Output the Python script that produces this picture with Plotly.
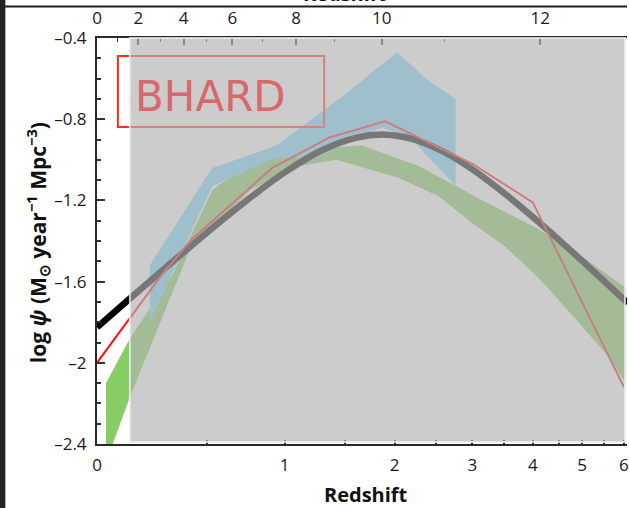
import plotly.graph_objects as go

# ---------------- data ----------------
# thick black/grey fit curve
fit_z = [0, 0.1, 0.2, 0.3, 0.5, 0.7, 1.0, 1.3, 1.6, 1.9, 2.2, 2.6, 3.0, 3.5, 4.0, 4.5, 5.0, 5.5, 6.0, 6.1]
fit_logpsi = [-1.825, -1.714, -1.613, -1.521, -1.359, -1.223, -1.062, -0.952, -0.892, -0.876,
              -0.897, -0.961, -1.047, -1.165, -1.282, -1.393, -1.498, -1.597, -1.688, -1.706]

# thin red polyline
red_z = [0, 0.129, 0.26, 0.41, 0.63, 0.91, 1.36, 1.9, 3.0, 4.0, 6.0]
red_logpsi = [-2.0, -1.78, -1.58, -1.40, -1.23, -1.04, -0.89, -0.81, -1.02, -1.21, -2.12]

# green band
green_upper_z = [0.034, 0.129, 0.32, 0.53, 0.69, 1.11, 1.66, 2.28, 3.09, 4.10, 4.76, 5.53, 6.05]
green_upper = [-2.10, -1.88, -1.57, -1.15, -1.05, -0.95, -0.93, -1.03, -1.19, -1.34, -1.44, -1.56, -1.63]
green_lower_z = [0.034, 0.129, 0.41, 0.76, 1.11, 1.42, 2.05, 2.53, 2.99, 3.52, 4.10, 4.76, 5.53, 6.05]
green_lower = [-2.49, -2.17, -1.44, -1.15, -1.03, -1.00, -1.09, -1.18, -1.31, -1.43, -1.58, -1.76, -1.95, -2.10]

# blue band
blue_upper_z = [0.215, 0.53, 0.94, 1.47, 2.03, 2.40, 2.76]
blue_upper = [-1.52, -1.04, -0.93, -0.69, -0.47, -0.61, -0.70]
blue_lower_z = [0.215, 0.53, 0.94, 1.25, 1.86, 2.20, 2.76]
blue_lower = [-1.80, -1.13, -0.99, -0.99, -0.84, -0.90, -1.13]

# axes
redshift_ticks = [0, 1, 2, 3, 4, 5, 6]
redshift_minor = [0.5, 1.5, 2.5, 3.5, 4.5, 5.5]
lookback_labels = ["0", "2", "4", "6", "8", "10", "12"]
lookback_tick_z = [0.0, 0.165, 0.377, 0.649, 1.087, 1.863, 4.139]      # redshift of 0,2,...,12 Gyr
lookback_minor_z = [0.079, 0.264, 0.498, 0.842, 1.400, 2.610]           # 1,3,...,11 Gyr
y_ticks = [-0.4, -0.8, -1.2, -1.6, -2.0, -2.4]
y_ticktext = ["–0.4", "–0.8", "–1.2", "–1.6", "–2", "–2.4"]


def opz(zs):
    return [1 + z for z in zs]


fig = go.Figure()

fig.add_trace(go.Scatter(
    x=opz(green_upper_z) + opz(green_lower_z)[::-1],
    y=green_upper + green_lower[::-1],
    fill="toself", fillcolor="rgb(135,205,100)", mode="lines",
    line=dict(width=0), hoverinfo="skip", showlegend=False))

fig.add_trace(go.Scatter(
    x=opz(blue_upper_z) + opz(blue_lower_z)[::-1],
    y=blue_upper + blue_lower[::-1],
    fill="toself", fillcolor="rgb(123,216,255)", mode="lines",
    line=dict(width=0), hoverinfo="skip", showlegend=False))

fig.add_trace(go.Scatter(
    x=opz(fit_z), y=fit_logpsi, mode="lines",
    line=dict(color="black", width=6.5, shape="spline"), showlegend=False))

fig.add_trace(go.Scatter(
    x=opz(red_z), y=red_logpsi, mode="lines",
    line=dict(color="rgb(255,20,20)", width=2), showlegend=False))

# dummy trace to activate the top axis
fig.add_trace(go.Scatter(x=[1, 7], y=[None, None], xaxis="x2", mode="lines",
                         showlegend=False, hoverinfo="skip"))

W, H = 629, 508
L, R, T, B = 97, 0, 38, 64
pw, ph = W - L - R, H - T - B


def px(xp):
    return (xp - L) / pw


def py(yp):
    return (H - B - yp) / ph


axis_common = dict(showgrid=False, zeroline=False, showline=True, linecolor="#2a2a2a", linewidth=2,
                   ticklabeloverflow="allow", tickfont=dict(family="Open Sans", size=17, color="#1a1a1a"))

fig.update_layout(
    width=W, height=H,
    margin=dict(l=L, r=R, t=T, b=B),
    paper_bgcolor="white", plot_bgcolor="white",
    showlegend=False,
    font=dict(family="Open Sans", size=17, color="#1a1a1a"),
    xaxis=dict(
        type="log", range=[0, 0.85],
        tickmode="array", tickvals=opz(redshift_ticks), ticktext=[str(v) for v in redshift_ticks],
        ticks="inside", ticklen=4, tickwidth=1.5, tickcolor="#333",
        ticklabelstandoff=5,
        minor=dict(tickmode="array", tickvals=opz(redshift_minor), ticks="inside",
                   ticklen=4, tickwidth=1.5, tickcolor="#333"),
        **axis_common),
    xaxis2=dict(
        type="log", range=[0, 0.85], overlaying="x", side="top", anchor="y",
        tickmode="array", tickvals=opz(lookback_tick_z), ticktext=lookback_labels,
        ticks="inside", ticklen=7, tickwidth=1.5, tickcolor="#333",
        ticklabelstandoff=5,
        minor=dict(tickmode="array", tickvals=opz(lookback_minor_z), ticks="inside",
                   ticklen=4, tickwidth=1.2, tickcolor="#333"),
        **axis_common),
    yaxis=dict(
        range=[-2.4, -0.4],
        tickmode="array", tickvals=y_ticks, ticktext=y_ticktext,
        ticks="inside", ticklen=8, tickwidth=1.5, tickcolor="#333",
        ticklabelstandoff=5,
        minor=dict(dtick=0.1, ticks="inside", ticklen=4, tickwidth=1.5, tickcolor="#333"),
        **axis_common),
)

shapes = [
    # BHARD box
    dict(type="rect", xref="paper", yref="paper", layer="above",
         x0=px(118), x1=px(325), y0=py(127), y1=py(56),
         line=dict(color="rgb(255,45,30)", width=2), fillcolor="rgba(0,0,0,0)"),
    # translucent grey overlay
    dict(type="rect", xref="paper", yref="paper", layer="above",
         x0=px(130), x1=px(627), y0=py(442), y1=py(38),
         line=dict(color="rgba(238,238,238,0.8)", width=2),
         fillcolor="rgba(178,178,178,0.667)"),
    # screenshot frame: top dark line and left dark strip
    dict(type="line", xref="paper", yref="paper", layer="above",
         x0=px(0), x1=px(629), y0=py(6.5), y1=py(6.5),
         line=dict(color="#1e1e1e", width=2)),
    dict(type="rect", xref="paper", yref="paper", layer="above",
         x0=px(-2), x1=px(5), y0=py(510), y1=py(-2),
         line=dict(width=0), fillcolor="#232323"),
]
fig.update_layout(shapes=shapes)

annotations = [
    dict(text="BHARD", xref="paper", yref="paper", x=px(211), y=py(96),
         xanchor="center", yanchor="middle", showarrow=False,
         font=dict(family="DejaVu Sans", size=42, color="rgb(214,106,106)")),
    dict(text="<b>log <i>ψ</i> (M<sub>⊙</sub> year<sup>−1</sup> Mpc<sup>−3</sup>)</b>",
         xref="paper", yref="paper", x=px(37), y=py(243), textangle=-90,
         xanchor="center", yanchor="middle", showarrow=False,
         font=dict(family="Open Sans", size=21, color="#111")),
    dict(text="<b>Redshift</b>", xref="paper", yref="paper", x=px(367), y=py(494),
         xanchor="center", yanchor="middle", showarrow=False,
         font=dict(family="Open Sans", size=20, color="#111")),
    dict(text="<b>Redshift</b>", xref="paper", yref="paper", x=px(346), y=py(9),
         xanchor="center", yanchor="bottom", showarrow=False,
         font=dict(family="Open Sans", size=20, color="#111")),
]
fig.update_layout(annotations=annotations)

fig.write_html("out.html")
